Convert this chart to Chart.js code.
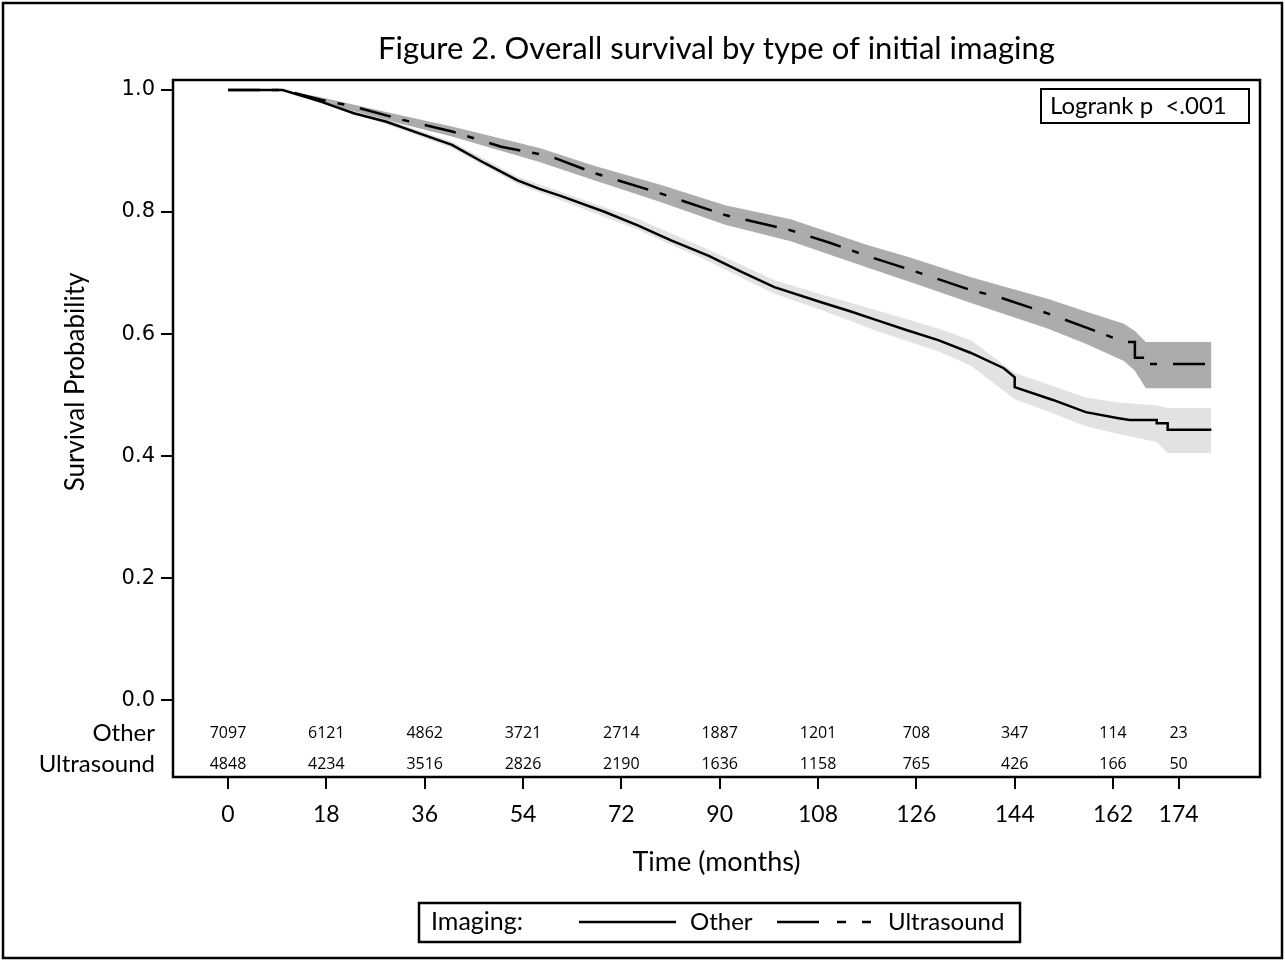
<!DOCTYPE html>
<html>
<head>
<meta charset="utf-8">
<script src="https://cdn.jsdelivr.net/npm/chart.js@4.4.1/dist/chart.umd.min.js"></script>
<style>
  body { margin: 0; background: #fff; }
  canvas { display: block; }
</style>
</head>
<body>
<canvas id="km" width="1285" height="961"></canvas>
<script>
const titleText = 'Figure 2. Overall survival by type of initial imaging'
const groups = ['Other', 'Ultrasound']

// axis ticks
const xTicks = [0, 18, 36, 54, 72, 90, 108, 126, 144, 162, 174]
const yTicks = [0, 0.2, 0.4, 0.6, 0.8, 1.0]

// number at risk, read at the x ticks
const atRiskOther = [7097, 6121, 4862, 3721, 2714, 1887, 1201, 708, 347, 114, 23]
const atRiskUltrasound = [4848, 4234, 3516, 2826, 2190, 1636, 1158, 765, 426, 166, 50]

// Kaplan-Meier estimate, Other
const otherTime = [0, 10, 17, 23, 29, 35, 41, 47, 53, 57, 61, 69, 75, 81, 88, 94, 100, 109, 114, 119, 124, 130, 136, 142, 144, 144, 151, 157, 163, 165, 170, 170, 172, 172, 180]
const otherSurv = [1, 1, 0.981, 0.962, 0.948, 0.929, 0.910, 0.880, 0.852, 0.838, 0.826, 0.800, 0.778, 0.754, 0.728, 0.702, 0.677, 0.651, 0.637, 0.622, 0.607, 0.590, 0.569, 0.544, 0.529, 0.513, 0.492, 0.472, 0.462, 0.459, 0.459, 0.454, 0.454, 0.443, 0.443]

// confidence band, Other
const otherBandTime = [0, 10, 17, 29, 41, 53, 61, 75, 88, 100, 109, 119, 130, 136, 144, 151, 157, 163, 170, 172, 180]
const otherLower = [1, 1, 0.978, 0.944, 0.905, 0.846, 0.819, 0.771, 0.719, 0.666, 0.638, 0.604, 0.572, 0.548, 0.493, 0.470, 0.449, 0.436, 0.423, 0.405, 0.405]
const otherUpper = [1, 1, 0.984, 0.952, 0.915, 0.858, 0.833, 0.789, 0.738, 0.688, 0.664, 0.638, 0.609, 0.590, 0.536, 0.515, 0.496, 0.488, 0.483, 0.479, 0.479]

// Kaplan-Meier estimate, Ultrasound
const usTime = [0, 10, 17, 23, 32, 41, 50, 57, 60, 67, 79, 91, 103, 110, 117, 125, 136, 141, 150, 157, 164, 166, 166, 168, 168, 180]
const usSurv = [1, 1, 0.984, 0.973, 0.951, 0.932, 0.907, 0.895, 0.888, 0.864, 0.831, 0.795, 0.770, 0.750, 0.728, 0.705, 0.672, 0.661, 0.634, 0.611, 0.587, 0.587, 0.561, 0.561, 0.551, 0.551]

// confidence band, Ultrasound
const usBandTime = [0, 10, 17, 32, 41, 57, 67, 79, 91, 103, 117, 125, 136, 150, 157, 164, 166, 168, 180]
const usLower = [1, 1, 0.980, 0.944, 0.924, 0.882, 0.852, 0.817, 0.779, 0.752, 0.709, 0.685, 0.651, 0.609, 0.584, 0.556, 0.540, 0.511, 0.511]
const usUpper = [1, 1, 0.988, 0.958, 0.940, 0.905, 0.876, 0.845, 0.811, 0.788, 0.746, 0.725, 0.693, 0.658, 0.637, 0.617, 0.605, 0.587, 0.587]

const pts = (t, v) => t.map((x, i) => ({ x: x, y: v[i] }))

const lightBand = '#e2e2e2'
const darkBand = '#acacac'

// frames, titles, at-risk table, logrank box and legend
const decor = {
  id: 'decor',
  afterDraw(chart) {
    const { ctx, chartArea: a, scales: { x, y } } = chart
    ctx.save()
    ctx.strokeStyle = '#000'
    ctx.fillStyle = '#000'
    ctx.lineWidth = 2.5
    ctx.strokeRect(a.left, a.top, a.right - a.left, a.bottom - a.top)
    ctx.strokeRect(3, 3, 1279, 955)

    ctx.textBaseline = 'middle'
    ctx.textAlign = 'center'
    ctx.font = '31px Lato'
    ctx.fillText(titleText, (a.left + a.right) / 2, 49)
    ctx.font = '27px Lato'
    ctx.fillText('Time (months)', (a.left + a.right) / 2, 862)

    ctx.save()
    ctx.translate(76, 382)
    ctx.rotate(-Math.PI / 2)
    ctx.font = '26px Lato'
    ctx.fillText('Survival Probability', 0, 0)
    ctx.restore()

    // number at risk
    const y0 = y.getPixelForValue(0)
    const rows = [[groups[0], atRiskOther, y0 + 33], [groups[1], atRiskUltrasound, y0 + 64]]
    rows.forEach(([name, counts, ry]) => {
      ctx.font = '24px Lato'
      ctx.textAlign = 'right'
      ctx.fillText(name, a.left - 18, ry)
      ctx.font = '16px "Open Sans"'
      ctx.textAlign = 'center'
      counts.forEach((n, i) => ctx.fillText(String(n), x.getPixelForValue(xTicks[i]), ry))
    })

    // logrank box
    ctx.lineWidth = 2
    ctx.strokeRect(1041, 89, 208, 34)
    ctx.font = '24px Lato'
    ctx.textAlign = 'left'
    ctx.fillText('Logrank p  <.001', 1050, 106)

    // legend
    ctx.lineWidth = 2.5
    ctx.strokeRect(419, 903, 601, 39)
    ctx.font = '25px Lato'
    ctx.fillText('Imaging:', 431, 922)
    ctx.font = '24px Lato'
    ctx.fillText(groups[0], 690, 922)
    ctx.fillText(groups[1], 888, 922)
    ctx.beginPath()
    ctx.moveTo(579, 922)
    ctx.lineTo(676, 922)
    ctx.stroke()
    ctx.setLineDash([42, 18, 9, 16, 9, 200])
    ctx.beginPath()
    ctx.moveTo(777, 922)
    ctx.lineTo(871, 922)
    ctx.stroke()
    ctx.restore()
  }
}

new Chart(document.getElementById('km').getContext('2d'), {
  type: 'line',
  data: {
    datasets: [
      { data: pts(otherBandTime, otherUpper), borderWidth: 0, pointRadius: 0, fill: false, order: 3 },
      { data: pts(otherBandTime, otherLower), borderWidth: 0, pointRadius: 0, fill: '-1', backgroundColor: lightBand, order: 3 },
      { data: pts(usBandTime, usUpper), borderWidth: 0, pointRadius: 0, fill: false, order: 2 },
      { data: pts(usBandTime, usLower), borderWidth: 0, pointRadius: 0, fill: '-1', backgroundColor: darkBand, order: 2 },
      { label: groups[0], data: pts(otherTime, otherSurv), borderColor: '#000', borderWidth: 2.5, pointRadius: 0, fill: false, order: 1 },
      { label: groups[1], data: pts(usTime, usSurv), borderColor: '#000', borderWidth: 2.5, borderDash: [32, 12, 7, 16], pointRadius: 0, fill: false, order: 0 },
    ],
  },
  options: {
    animation: false,
    responsive: false,
    maintainAspectRatio: false,
    devicePixelRatio: 1,
    layout: { padding: { left: 0, top: 80, right: 25, bottom: 0 } },
    plugins: { legend: { display: false }, tooltip: { enabled: false } },
    scales: {
      x: {
        type: 'linear',
        min: -10.07,
        max: 188.9,
        afterFit: s => { s.height = 184 },
        afterBuildTicks: s => { s.ticks = xTicks.map(v => ({ value: v })) },
        grid: { drawOnChartArea: false, color: '#000', lineWidth: 2, tickLength: 12 },
        border: { display: false },
        ticks: { autoSkip: false, maxRotation: 0, padding: 12, color: '#000', font: { family: 'Lato', size: 23 } },
      },
      y: {
        type: 'linear',
        min: -0.126,
        max: 1.0164,
        afterFit: s => { s.width = 173 },
        afterBuildTicks: s => { s.ticks = yTicks.map(v => ({ value: v })) },
        grid: { drawOnChartArea: false, color: '#000', lineWidth: 2, tickLength: 12 },
        border: { display: false },
        ticks: { padding: 6, color: '#000', font: { family: 'DejaVu Sans', size: 21 }, callback: v => v.toFixed(1) },
      },
    },
  },
  plugins: [decor],
})
</script>
</body>
</html>
